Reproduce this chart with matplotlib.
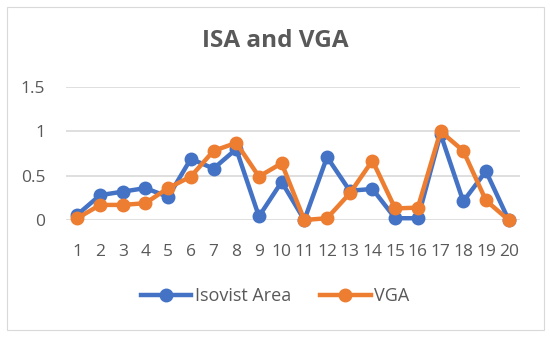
import matplotlib.pyplot as plt
from matplotlib.patches import Rectangle

kategoriler = list(range(1, 21))
isovist = [0.06, 0.28, 0.32, 0.36, 0.26, 0.69, 0.58, 0.80, 0.04, 0.43,
           0.0, 0.71, 0.33, 0.35, 0.02, 0.02, 0.97, 0.21, 0.55, 0.0]
vga = [0.02, 0.17, 0.17, 0.19, 0.36, 0.49, 0.78, 0.87, 0.49, 0.64,
       0.0, 0.02, 0.30, 0.67, 0.13, 0.14, 1.0, 0.78, 0.22, 0.0]
y_ticks = [0, 0.5, 1, 1.5]
y_labels = ['0', '0.5', '1', '1.5']

plt.rcParams['font.family'] = ['Open Sans', 'DejaVu Sans']
gri = '#595959'

fig = plt.figure(figsize=(5.5, 3.37), dpi=100)
fig.patches.append(Rectangle((7 / 550, 7 / 337), 537 / 550, 323 / 337,
                             transform=fig.transFigure, fill=False,
                             edgecolor='#D9D9D9', linewidth=0.8))
ax = fig.add_axes([66 / 550, 1 - 220 / 337, 454 / 550, 133 / 337])

ax.plot(kategoriler, isovist, color='#4472C4', linewidth=3.2, marker='o',
        markersize=9, label='Isovist Area', clip_on=False, zorder=3)
ax.plot(kategoriler, vga, color='#ED7D31', linewidth=3.2, marker='o',
        markersize=9, label='VGA', clip_on=False, zorder=4)

ax.set_xlim(0.5, 20.5)
ax.set_ylim(0, 1.5)
ax.set_xticks(kategoriler)
ax.set_xticklabels([str(k) for k in kategoriler])
ax.set_yticks(y_ticks)
ax.set_yticklabels(y_labels)
ax.tick_params(length=0, labelsize=12.5, colors=gri)
ax.tick_params(axis='x', pad=17)
ax.tick_params(axis='y', pad=15)
ax.grid(axis='y', color='#D9D9D9', linewidth=1.2)
ax.set_axisbelow(True)
for s in ax.spines.values():
    s.set_visible(False)

fig.text(0.5, 1 - 41 / 337, 'ISA and VGA', ha='center', va='center',
         fontsize=17.5, fontweight='bold', color=gri)
fig.legend(loc='center', bbox_to_anchor=(0.5, 1 - 296 / 337), ncol=2,
           frameon=False, fontsize=13, labelcolor=gri, handlelength=2.8,
           columnspacing=1.6, handletextpad=0.2)

fig.savefig('out.png', dpi=100)
